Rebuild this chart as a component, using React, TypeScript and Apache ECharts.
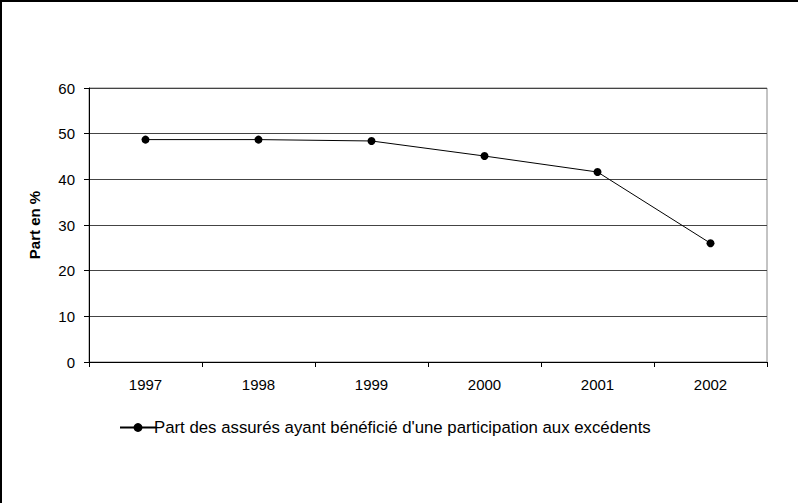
import React, { useEffect, useRef } from "react";
import * as echarts from "echarts";

const categories = ["1997", "1998", "1999", "2000", "2001", "2002"];
const values = [48.7, 48.7, 48.4, 45.1, 41.6, 26.0];
const seriesName = "Part des assurés ayant bénéficié d'une participation aux excédents";
const yAxisTitle = "Part en %";

export default function App() {
  const ref = useRef<HTMLDivElement>(null);
  useEffect(() => {
    if (!ref.current) return;
    const chart = echarts.init(ref.current, null, { renderer: "svg" });
    const font = "Liberation Sans, Arial, sans-serif";
    chart.setOption({
      animation: false,
      backgroundColor: "#ffffff",
      textStyle: { fontFamily: font },
      grid: {
        left: 89,
        top: 88,
        right: 31,
        bottom: 141,
        show: true,
        borderColor: "#888888",
        borderWidth: 1,
        containLabel: false,
      },
      legend: {
        data: [{ name: seriesName }],
        left: 114,
        top: 414,
        itemWidth: 36,
        itemHeight: 11,
        itemGap: 0,
        textStyle: { fontFamily: font, fontSize: 16.8, color: "#000", padding: [0, 0, 0, -7] },
      },
      xAxis: {
        type: "category",
        data: categories,
        boundaryGap: true,
        axisLine: { lineStyle: { color: "#000", width: 1 } },
        axisTick: { show: true, alignWithLabel: false, length: 5, lineStyle: { color: "#000" } },
        axisLabel: { color: "#000", fontSize: 15, fontFamily: font, margin: 15 },
        splitLine: { show: false },
      },
      yAxis: {
        type: "value",
        min: 0,
        max: 60,
        interval: 10,
        name: yAxisTitle,
        nameLocation: "middle",
        nameGap: 47,
        nameRotate: 90,
        nameTextStyle: { fontFamily: font, fontSize: 15, fontWeight: "bold", color: "#000" },
        axisLine: { show: true, lineStyle: { color: "#000", width: 1 } },
        axisTick: { show: true, length: 5, lineStyle: { color: "#000" } },
        axisLabel: { color: "#000", fontSize: 15, fontFamily: font, margin: 14 },
        splitLine: { show: true, lineStyle: { color: "#444444", width: 1 } },
      },
      series: [
        {
          name: seriesName,
          type: "line",
          data: values,
          symbol: "circle",
          symbolSize: 8,
          itemStyle: { color: "#000" },
          lineStyle: { color: "#000", width: 1 },
        },
      ],
      graphic: [
        { type: "line", shape: { x1: 0, y1: 1, x2: 798, y2: 1 }, style: { stroke: "#000", lineWidth: 2 } },
        { type: "line", shape: { x1: 1, y1: 0, x2: 1, y2: 503 }, style: { stroke: "#000", lineWidth: 2 } },
      ],
    });
    return () => chart.dispose();
  }, []);
  return <div ref={ref} style={{ position: "fixed", left: 0, top: 0, width: 798, height: 503 }} />;
}
